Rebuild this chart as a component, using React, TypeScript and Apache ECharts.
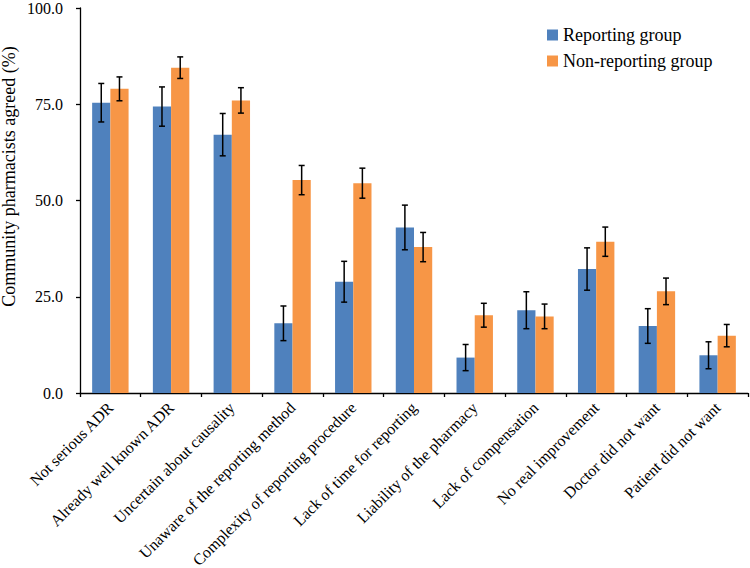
import React, { useEffect, useRef } from "react";
import * as echarts from "echarts";

const categories = [
  "Not serious ADR",
  "Already well known ADR",
  "Uncertain about causality",
  "Unaware of the reporting method",
  "Complexity of reporting procedure",
  "Lack of time for reporting",
  "Liability of the pharmacy",
  "Lack of compensation",
  "No real improvement",
  "Doctor did not want",
  "Patient did not want",
];

const reporting = [75.4, 74.4, 67.1, 18.1, 28.9, 43.0, 9.2, 21.5, 32.2, 17.4, 9.8];
const reportingErr = [5.0, 5.1, 5.5, 4.5, 5.3, 5.8, 3.4, 4.8, 5.5, 4.5, 3.5];
const nonReporting = [79.0, 84.5, 76.0, 55.3, 54.5, 37.9, 20.2, 19.9, 39.3, 26.4, 14.9];
const nonReportingErr = [3.1, 2.8, 3.3, 3.8, 3.9, 3.8, 3.1, 3.2, 3.8, 3.45, 2.9];

const seriesNames = ["Reporting group", "Non-reporting group"];
const yAxisTitle = "Community pharmacists agreed (%)";

const FONT = "Liberation Serif";
const BLUE = "#4F81BD";
const ORANGE = "#F79646";

function errorSeries(values: number[], errs: number[], offsetFrac: number) {
  return {
    type: "custom",
    silent: true,
    z: 10,
    data: values.map((v, i) => [i, v, errs[i]]),
    encode: { x: 0, y: 1 },
    renderItem: (params: any, api: any) => {
      const i = api.value(0);
      const v = api.value(1);
      const e = api.value(2);
      const top = api.coord([i, v + e]);
      const bot = api.coord([i, v - e]);
      const w = api.size([1, 0])[0];
      const x = top[0] + offsetFrac * w;
      const cap = 3;
      const style = { stroke: "#000", lineWidth: 1.5 };
      return {
        type: "group",
        children: [
          { type: "line", shape: { x1: x, y1: top[1], x2: x, y2: bot[1] }, style },
          { type: "line", shape: { x1: x - cap, y1: top[1], x2: x + cap, y2: top[1] }, style },
          { type: "line", shape: { x1: x - cap, y1: bot[1], x2: x + cap, y2: bot[1] }, style },
        ],
      };
    },
  };
}

export default function App() {
  const ref = useRef<HTMLDivElement>(null);
  useEffect(() => {
    if (!ref.current) return;
    const chart = echarts.init(ref.current, null, { renderer: "svg" });
    chart.setOption({
      animation: false,
      backgroundColor: "#fff",
      grid: {
        left: 80,
        right: 2,
        top: 8,
        bottom: 175,
        containLabel: false,
        outerBoundsMode: "none",
      },
      legend: {
        data: seriesNames,
        orient: "vertical",
        left: 542,
        top: 21,
        itemWidth: 11,
        itemHeight: 11,
        itemGap: 8,
        icon: "rect",
        textStyle: { fontFamily: FONT, fontSize: 18, color: "#000" },
      },
      graphic: [
        {
          type: "text",
          x: 9,
          y: 176.5,
          rotation: Math.PI / 2,
          style: {
            text: yAxisTitle,
            fontFamily: FONT,
            fontSize: 18,
            fill: "#000",
            textAlign: "center",
            textVerticalAlign: "middle",
          },
        },
      ],
      xAxis: {
        type: "category",
        data: categories,
        axisLine: { lineStyle: { color: "#000", width: 1.3 } },
        axisTick: { show: true, alignWithLabel: false, length: 4, lineStyle: { color: "#000", width: 1.3 } },
        axisLabel: {
          rotate: 45,
          interval: 0,
          margin: 12,
          fontFamily: FONT,
          fontSize: 16,
          color: "#000",
        },
      },
      yAxis: {
        type: "value",
        min: 0,
        max: 100,
        interval: 25,
        splitLine: { show: false },
        axisLine: { show: true, lineStyle: { color: "#000", width: 1.3 } },
        axisTick: { show: true, length: 4, lineStyle: { color: "#000", width: 1.3 } },
        axisLabel: {
          margin: 17,
          fontFamily: FONT,
          fontSize: 16,
          color: "#000",
          formatter: (v: number) => v.toFixed(1),
        },
      },
      series: [
        {
          name: seriesNames[0],
          type: "bar",
          data: reporting,
          itemStyle: { color: BLUE },
          barGap: "0%",
          barCategoryGap: "40%",
        },
        {
          name: seriesNames[1],
          type: "bar",
          data: nonReporting,
          itemStyle: { color: ORANGE },
          barGap: "0%",
          barCategoryGap: "40%",
        },
        errorSeries(reporting, reportingErr, -0.15),
        errorSeries(nonReporting, nonReportingErr, 0.15),
      ],
    });
    return () => chart.dispose();
  }, []);
  return <div ref={ref} style={{ width: 750, height: 568, position: "absolute", left: 0, top: 0 }} />;
}
